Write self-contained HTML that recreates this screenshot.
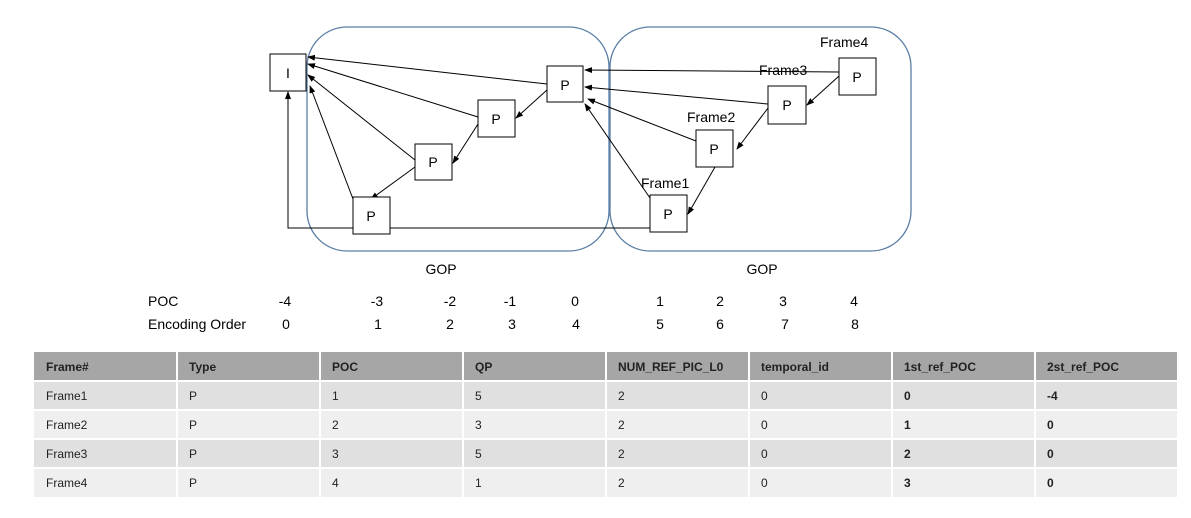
<!DOCTYPE html>
<html><head><meta charset="utf-8"><style>
html,body{margin:0;padding:0;background:#fff;width:1191px;height:518px;overflow:hidden}
svg{display:block;font-family:"Liberation Sans","DejaVu Sans",sans-serif}
</style></head><body>
<svg width="1191" height="518" viewBox="0 0 1191 518" xmlns="http://www.w3.org/2000/svg">
<defs><marker id="a" markerWidth="8" markerHeight="8" refX="7" refY="4" orient="auto" markerUnits="userSpaceOnUse"><path d="M0,1 L8,4 L0,7 z" fill="#000"/></marker></defs>
<rect x="307" y="27" width="302" height="224" rx="40" fill="none" stroke="#5a7ea6" stroke-width="1.3"/>
<rect x="610" y="27" width="301" height="224" rx="40" fill="none" stroke="#5a7ea6" stroke-width="1.3"/>
<g stroke="#000" stroke-width="1" fill="none">
<polyline points="650,228 288,228 288,92" marker-end="url(#a)"/>
<line x1="547" y1="84" x2="308" y2="57" marker-end="url(#a)"/>
<line x1="478" y1="117" x2="308" y2="64" marker-end="url(#a)"/>
<line x1="415" y1="160" x2="308" y2="75" marker-end="url(#a)"/>
<line x1="353" y1="199" x2="310" y2="86" marker-end="url(#a)"/>
<line x1="547" y1="90" x2="516" y2="118" marker-end="url(#a)"/>
<line x1="478" y1="124" x2="453" y2="163" marker-end="url(#a)"/>
<line x1="415" y1="167" x2="371" y2="199" marker-end="url(#a)"/>
<line x1="839" y1="72" x2="585" y2="70" marker-end="url(#a)"/>
<line x1="839" y1="76" x2="807" y2="105" marker-end="url(#a)"/>
<line x1="768" y1="104" x2="585" y2="87" marker-end="url(#a)"/>
<line x1="768" y1="108" x2="737" y2="149" marker-end="url(#a)"/>
<line x1="696" y1="141" x2="588" y2="99" marker-end="url(#a)"/>
<line x1="715" y1="167" x2="688" y2="214" marker-end="url(#a)"/>
<line x1="650" y1="198" x2="585" y2="104" marker-end="url(#a)"/>
</g>
<g fill="#fff" stroke="#000" stroke-width="1">
<rect x="270" y="54" width="36" height="37"/>
<rect x="547" y="66" width="36" height="36"/>
<rect x="478" y="100" width="37" height="37"/>
<rect x="415" y="144" width="37" height="36"/>
<rect x="353" y="197" width="37" height="37"/>
<rect x="650" y="195" width="37" height="37"/>
<rect x="696" y="130" width="37" height="37"/>
<rect x="768" y="86" width="38" height="38"/>
<rect x="839" y="58" width="37" height="37"/>
</g>
<g font-size="14" fill="#000" text-anchor="middle">
<text x="288" y="78">I</text>
<text x="565" y="90">P</text>
<text x="496" y="124">P</text>
<text x="433" y="167">P</text>
<text x="371" y="221">P</text>
<text x="668" y="219">P</text>
<text x="714" y="154">P</text>
<text x="787" y="110">P</text>
<text x="857" y="82">P</text>
</g>
<g font-size="14" fill="#000">
<text x="820" y="47">Frame4</text>
<text x="759" y="75">Frame3</text>
<text x="687" y="122">Frame2</text>
<text x="641" y="188">Frame1</text>
<text x="441" y="274" text-anchor="middle">GOP</text>
<text x="762" y="274" text-anchor="middle">GOP</text>
<text x="148" y="306">POC</text>
<text x="148" y="329">Encoding Order</text>
</g>
<g font-size="14" fill="#000" text-anchor="middle">
<text x="285" y="306">-4</text><text x="377" y="306">-3</text><text x="450" y="306">-2</text><text x="510" y="306">-1</text><text x="575" y="306">0</text><text x="660" y="306">1</text><text x="720" y="306">2</text><text x="783" y="306">3</text><text x="854" y="306">4</text>
<text x="286" y="329">0</text><text x="378" y="329">1</text><text x="450" y="329">2</text><text x="512" y="329">3</text><text x="576" y="329">4</text><text x="660" y="329">5</text><text x="720" y="329">6</text><text x="785" y="329">7</text><text x="855" y="329">8</text>
</g>
<g id="t" font-size="12" fill="#222">
<rect x="34" y="352" width="1143" height="28" fill="#a6a6a6"/>
<rect x="34" y="382" width="1143" height="27" fill="#e0e0e0"/>
<rect x="34" y="411" width="1143" height="27" fill="#efefef"/>
<rect x="34" y="440" width="1143" height="27" fill="#e0e0e0"/>
<rect x="34" y="469" width="1143" height="28" fill="#efefef"/>
<g stroke="#fff" stroke-width="2">
<line x1="177" y1="350" x2="177" y2="498"/><line x1="320" y1="350" x2="320" y2="498"/><line x1="463" y1="350" x2="463" y2="498"/><line x1="606" y1="350" x2="606" y2="498"/><line x1="749" y1="350" x2="749" y2="498"/><line x1="892" y1="350" x2="892" y2="498"/><line x1="1035" y1="350" x2="1035" y2="498"/>
</g>
<g font-weight="bold" fill="#222">
<text x="46" y="371">Frame#</text><text x="189" y="371">Type</text><text x="332" y="371">POC</text><text x="475" y="371">QP</text><text x="618" y="371">NUM_REF_PIC_L0</text><text x="761" y="371">temporal_id</text><text x="904" y="371">1st_ref_POC</text><text x="1047" y="371">2st_ref_POC</text>
</g>
<text x="46" y="400">Frame1</text><text x="189" y="400">P</text><text x="332" y="400">1</text><text x="475" y="400">5</text><text x="618" y="400">2</text><text x="761" y="400">0</text><text x="904" y="400" font-weight="bold">0</text><text x="1047" y="400" font-weight="bold">-4</text>
<text x="46" y="429">Frame2</text><text x="189" y="429">P</text><text x="332" y="429">2</text><text x="475" y="429">3</text><text x="618" y="429">2</text><text x="761" y="429">0</text><text x="904" y="429" font-weight="bold">1</text><text x="1047" y="429" font-weight="bold">0</text>
<text x="46" y="458">Frame3</text><text x="189" y="458">P</text><text x="332" y="458">3</text><text x="475" y="458">5</text><text x="618" y="458">2</text><text x="761" y="458">0</text><text x="904" y="458" font-weight="bold">2</text><text x="1047" y="458" font-weight="bold">0</text>
<text x="46" y="487">Frame4</text><text x="189" y="487">P</text><text x="332" y="487">4</text><text x="475" y="487">1</text><text x="618" y="487">2</text><text x="761" y="487">0</text><text x="904" y="487" font-weight="bold">3</text><text x="1047" y="487" font-weight="bold">0</text>
</g>
</svg>
</body></html>
